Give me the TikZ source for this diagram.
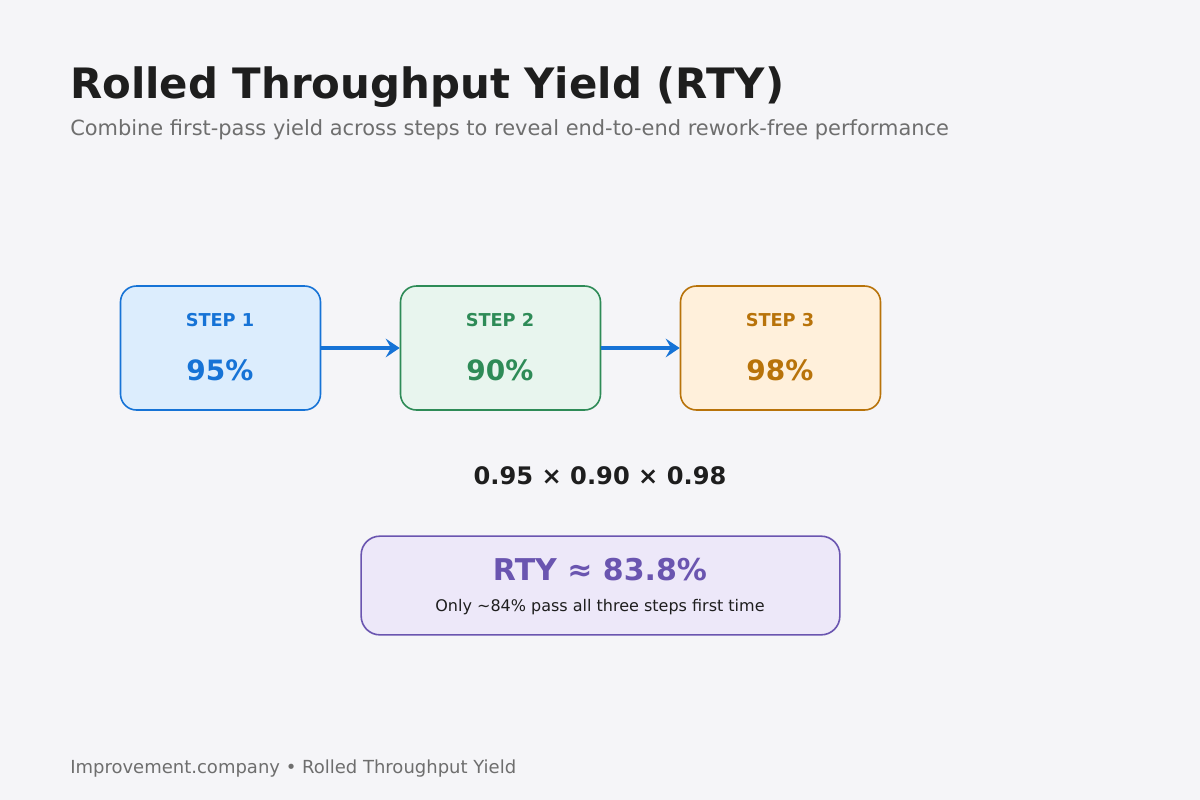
\documentclass[tikz,border=0pt]{standalone}
\usepackage{fontspec}
\setmainfont{DejaVu Sans}
\usetikzlibrary{arrows.meta,positioning}

\definecolor{bgc}{HTML}{F5F5F8}
\definecolor{inkc}{HTML}{1E1E1E}
\definecolor{greyc}{HTML}{6E6E6E}
\definecolor{bluec}{HTML}{1673D6}
\definecolor{bluef}{HTML}{DCEDFD}
\definecolor{greenc}{HTML}{2E8B57}
\definecolor{greenf}{HTML}{E8F5EE}
\definecolor{orangec}{HTML}{B8730A}
\definecolor{orangef}{HTML}{FFF0DB}
\definecolor{purplec}{HTML}{6A55B0}
\definecolor{purplef}{HTML}{EDE8F9}

\tikzset{
  stepbox/.style={draw=#1, line width=1.2pt, rounded corners=12pt,
    minimum width=150pt, minimum height=93pt, inner sep=0pt},
  steplabel/.style={font=\fontsize{13.3}{13}\selectfont\bfseries, text=#1},
  steppct/.style={font=\fontsize{21}{21}\selectfont\bfseries, text=#1},
  flow/.style={bluec, line width=3pt, -{Stealth[length=10.5pt,width=14pt,inset=4pt]}}
}

\begin{document}
\begin{tikzpicture}[x=0.75pt, y=-0.75pt]
  % fond et cadre
  \fill[bgc] (0,0) rectangle (1200,800);
  \useasboundingbox (0,0) rectangle (1200,800);

  % Titre et sous-titre
  \node[anchor=base west, inner sep=0pt, text=inkc, font=\fontsize{31.4}{31}\selectfont\bfseries]
    (title) at (70,98) {Rolled Throughput Yield (RTY)};
  \node[anchor=base west, inner sep=0pt, text=greyc, font=\fontsize{15.7}{16}\selectfont]
    (subtitle) at (70,135) {Combine first-pass yield across steps to reveal end-to-end rework-free performance};

  % Les trois étapes
  \node[stepbox=bluec, fill=bluef] (s1) at (220.5,348) {};
  \node[stepbox=greenc, fill=greenf] (s2) at (500.5,348) {};
  \node[stepbox=orangec, fill=orangef] (s3) at (780.5,348) {};

  \node[steplabel=bluec] (l1) at (220,320) {STEP 1};
  \node[steppct=bluec] (p1) at (220,370) {95\%};
  \node[steplabel=greenc] (l2) at (500,320) {STEP 2};
  \node[steppct=greenc] (p2) at (500,370) {90\%};
  \node[steplabel=orangec] (l3) at (780,320) {STEP 3};
  \node[steppct=orangec] (p3) at (780,370) {98\%};

  % Flèches entre étapes
  \draw[flow] (s1.east) -- (s2.west);
  \draw[flow] (s2.east) -- (s3.west);

  % Calcul
  \node[text=inkc, font=\fontsize{18.1}{18}\selectfont\bfseries] (calc) at (600,476) {0.95 × 0.90 × 0.98};

  % Résultat
  \node[draw=purplec, fill=purplef, line width=1.2pt, rounded corners=14pt,
    minimum width=359pt, minimum height=74pt, inner sep=0pt] (res) at (600.5,585.5) {};
  \node[text=purplec, font=\fontsize{22.5}{23}\selectfont\bfseries] (rty) at (600,570) {RTY ≈ 83.8\%};
  \node[text=inkc, font=\fontsize{12}{12}\selectfont] (note) at (600,607) {Only \textasciitilde84\% pass all three steps first time};

  % Pied de page
  \node[anchor=base west, inner sep=0pt, text=greyc, font=\fontsize{13.5}{14}\selectfont]
    (footer) at (70,773) {Improvement.company • Rolled Throughput Yield};
\end{tikzpicture}
\end{document}
